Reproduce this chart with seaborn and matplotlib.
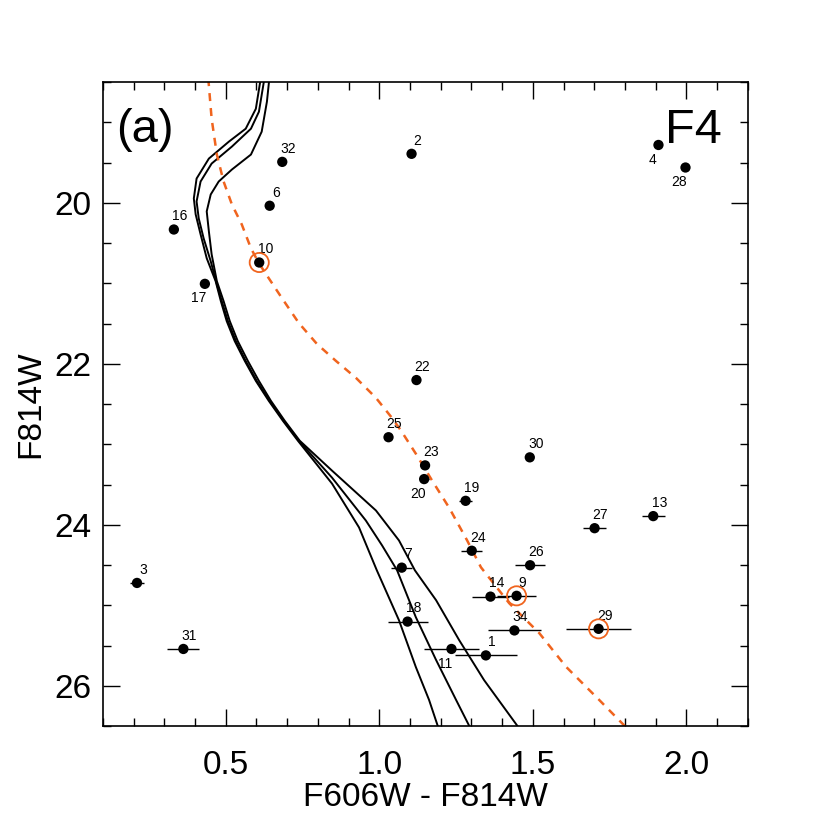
import numpy as np
import pandas as pd
import matplotlib
matplotlib.use("Agg")
import matplotlib.pyplot as plt
import seaborn as sns

# star catalogue
star_id = [1, 2, 3, 4, 6, 7, 9, 10, 11, 13, 14, 16, 17, 18, 19, 20, 21, 22,
           23, 24, 25, 26, 27, 28, 29, 30, 31, 32, 34]
color = [1.347, 1.105, 0.211, 1.909, 0.643, 1.073, 1.447, 0.609, 1.235, 1.892,
         1.362, 0.331, 0.432, 1.092, 1.281, 1.146, 2.215, 1.121, 1.149, 1.301,
         1.030, 1.491, 1.701, 1.997, 1.714, 1.490, 0.362, 0.684, 1.440]
mag = [25.62, 19.39, 24.72, 19.28, 20.035, 24.53, 24.88, 20.74, 25.54, 23.89,
       24.89, 20.33, 21.005, 25.20, 23.70, 23.43, 19.55, 22.20, 23.26, 24.32,
       22.91, 24.50, 24.04, 19.56, 25.29, 23.16, 25.54, 19.49, 25.31]
color_err = [0.10, 0.0, 0.024, 0.0, 0.0, 0.035, 0.064, 0.0, 0.09, 0.038,
             0.06, 0.0, 0.0, 0.065, 0.022, 0.015, 0.0, 0.0, 0.0, 0.035,
             0.0, 0.05, 0.038, 0.0, 0.107, 0.0, 0.052, 0.0, 0.085]
label_below = [4, 11, 17, 20, 21, 28]
circled = [9, 10, 29]

# isochrones (three ages)
iso_a_col = [0.614, 0.598, 0.565, 0.510, 0.445, 0.405, 0.396, 0.402, 0.418, 0.438,
             0.467, 0.484, 0.503, 0.529, 0.562, 0.598, 0.640, 0.686, 0.735, 0.846,
             0.934, 0.992, 1.064, 1.119, 1.162, 1.195]
iso_a_mag = [18.45, 18.83, 19.078, 19.239, 19.449, 19.697, 19.944, 20.142, 20.390, 20.687,
             20.972, 21.220, 21.467, 21.715, 21.963, 22.211, 22.458, 22.706, 22.954, 23.486,
             24.031, 24.564, 25.183, 25.765, 26.173, 26.55]
iso_b_col = [0.626, 0.608, 0.582, 0.520, 0.454, 0.418, 0.405, 0.412, 0.428, 0.451,
             0.471, 0.487, 0.507, 0.533, 0.565, 0.601, 0.643, 0.689, 0.738, 0.846,
             0.956, 1.009, 1.058, 1.119, 1.185, 1.250, 1.300]
iso_b_mag = [18.45, 18.867, 19.078, 19.300, 19.511, 19.734, 19.981, 20.192, 20.440, 20.724,
             21.009, 21.220, 21.467, 21.715, 21.963, 22.211, 22.458, 22.706, 22.954, 23.412,
             23.944, 24.254, 24.564, 25.146, 25.678, 26.173, 26.55]
iso_c_col = [0.642, 0.634, 0.617, 0.582, 0.520, 0.477, 0.451, 0.438, 0.445, 0.454,
             0.471, 0.493, 0.513, 0.539, 0.572, 0.608, 0.647, 0.692, 0.741, 0.846,
             0.989, 1.064, 1.116, 1.185, 1.260, 1.341, 1.460]
iso_c_mag = [18.45, 18.743, 19.115, 19.399, 19.585, 19.734, 19.895, 20.105, 20.353, 20.638,
             20.972, 21.220, 21.467, 21.715, 21.963, 22.211, 22.458, 22.706, 22.954, 23.325,
             23.820, 24.192, 24.564, 24.935, 25.430, 25.926, 26.55]

# dashed reference sequence
ref_col = [0.443, 0.454, 0.471, 0.493, 0.520, 0.552, 0.582, 0.608, 0.640, 0.683,
           0.738, 0.797, 0.859, 0.924, 0.989, 1.041, 1.071, 1.119, 1.172, 1.227,
           1.286, 1.331, 1.423, 1.521, 1.609, 1.716, 1.800]
ref_mag = [18.45, 18.954, 19.399, 19.734, 20.019, 20.266, 20.563, 20.749, 20.935, 21.183,
           21.492, 21.752, 21.963, 22.173, 22.421, 22.669, 22.830, 23.115, 23.449, 23.783,
           24.192, 24.526, 24.972, 25.344, 25.765, 26.173, 26.50]

df = pd.DataFrame({"id": star_id, "color": color, "mag": mag, "err": color_err})

sns.set_style("ticks")
plt.rcParams['font.family'] = ['Liberation Sans', 'DejaVu Sans']
plt.rcParams.update({"text.color": "black", "axes.labelcolor": "black",
                     "xtick.color": "black", "ytick.color": "black",
                     "axes.edgecolor": "black"})

fig = plt.figure(figsize=(8.3, 8.3), dpi=100)
ax = fig.add_axes([0.124, 0.125, 0.777, 0.776])

orange = "#f0641e"

# isochrones
for xc, yc in [(iso_a_col, iso_a_mag), (iso_b_col, iso_b_mag), (iso_c_col, iso_c_mag)]:
    sns.lineplot(x=xc, y=yc, sort=False, estimator=None, color="black", lw=1.4, ax=ax)

sns.lineplot(x=ref_col, y=ref_mag, sort=False, estimator=None, color=orange, lw=1.8,
             ax=ax, dashes=False)
ax.lines[-1].set_linestyle((0, (3.2, 2.8)))

# error bars and points
err_df = df[df["err"] > 0]
ax.errorbar(err_df["color"], err_df["mag"], xerr=err_df["err"], fmt="none",
            ecolor="black", elinewidth=1.0, capsize=0, zorder=3)
sns.scatterplot(data=df, x="color", y="mag", color="black", s=55, edgecolor="none",
                ax=ax, zorder=4)

circ = df[df["id"].isin(circled)]
ax.scatter(circ["color"], circ["mag"], s=190, facecolors="none", edgecolors=orange,
           linewidths=1.3, zorder=5)

for _, r in df.iterrows():
    if r["id"] in label_below:
        off = (-4.5, -10.5)
    else:
        off = (4.3, 9.5)
    t = ax.annotate(str(int(r["id"])), (r["color"], r["mag"]), xytext=off,
                    textcoords="offset points", ha="center", va="center", fontsize=10)
    t.set_clip_on(True)

ax.text(0.02, 0.925, "(a)", transform=ax.transAxes, fontsize=34, ha="left", va="center")
ax.text(0.96, 0.925, "F4", transform=ax.transAxes, fontsize=35, ha="right", va="center")

ax.set_xlim(0.1, 2.2)
ax.set_ylim(26.5, 18.5)
ax.set_xticks([0.5, 1.0, 1.5, 2.0])
ax.set_xticks(np.arange(0.1, 2.21, 0.1), minor=True)
ax.set_yticks([20, 22, 24, 26])
ax.set_yticks(np.arange(18.5, 26.51, 0.5), minor=True)
ax.tick_params(which="both", direction="in", top=True, right=True, width=1.0,
               labelsize=24)
ax.tick_params(axis="x", which="major", length=12, pad=17)
ax.tick_params(axis="y", which="major", length=12, pad=8)
ax.tick_params(which="minor", length=6)
for s in ax.spines.values():
    s.set_linewidth(1.2)

ax.set_xlabel("F606W - F814W", fontsize=24, labelpad=1)
ax.set_ylabel("F814W", fontsize=24, labelpad=6)

fig.savefig("out.png", dpi=100)
